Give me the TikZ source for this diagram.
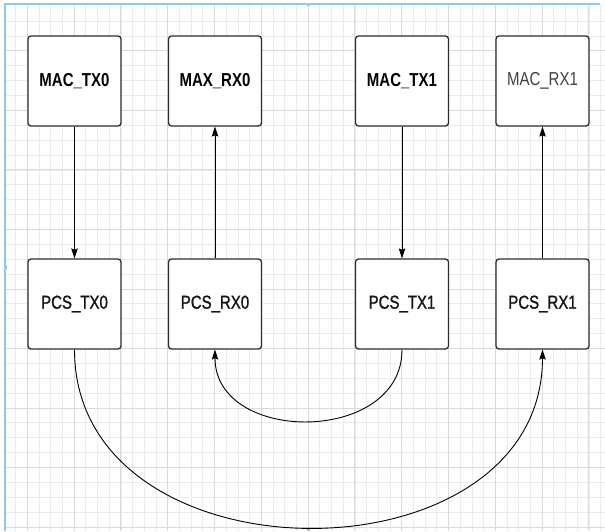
\documentclass[tikz,border=0pt]{standalone}
\usepackage{fontspec}
\usepackage{graphicx}
\setmainfont{Liberation Sans}
\newfontfamily\mediumface[FakeBold=1.3]{Liberation Sans}
\usetikzlibrary{arrows.meta}
\newcommand{\boxlabel}[1]{\scalebox{1}[1.25]{#1}}
\definecolor{gridminor}{HTML}{EBEBEB}
\definecolor{gridmajor}{HTML}{DADADA}
\definecolor{pageblue}{HTML}{8CC9F5}
\definecolor{boxline}{HTML}{2B2B2B}
\tikzset{
  block/.style={draw=boxline, line width=1.3pt, rounded corners=3pt, fill=white,
    minimum width=93pt, minimum height=90pt, inner sep=0pt,
    font=\fontsize{15pt}{18pt}\selectfont},
  plainlbl/.style={text=black!92, font=\fontsize{15pt}{18pt}\selectfont\mediumface},
  greylbl/.style={text=black!75},
  conn/.style={draw=black, line width=0.9pt,
    -{Stealth[width=6.5pt,length=10pt,inset=1.5pt]}},
  minorline/.style={draw=gridminor, line width=0.8pt},
  majorline/.style={draw=gridmajor, line width=0.9pt},
  pageedge/.style={draw=pageblue, line width=1.4pt}
}
\begin{document}
\begin{tikzpicture}[x=1pt, y=-1pt]
  \useasboundingbox (0,0) rectangle (605,531);
  \fill[white] (0,0) rectangle (605,531);

  % background grid
  \begin{scope}
    \clip (5,4) rectangle (605,531);
    \foreach \k in {0,...,50} {
      \draw[minorline] ({15.6+11.7*\k},4) -- ({15.6+11.7*\k},531);
    }
    \foreach \k in {1,...,35} {
      \draw[minorline] (5,{6.24+14.88*\k}) -- (605,{6.24+14.88*\k});
    }
    \foreach \k in {0,...,12} {
      \draw[majorline] ({27.3+46.8*\k},4) -- ({27.3+46.8*\k},531);
    }
    \foreach \k in {0,...,8} {
      \draw[majorline] (5,{50.9+59.52*\k}) -- (605,{50.9+59.52*\k});
    }
  \end{scope}

  % page edges
  \draw[pageedge] (5,531) -- (5,4) -- (600,4);
  \fill[pageblue] (306.5,2.5) rectangle (309.5,5.5);
  \fill[pageblue] (3.5,265) rectangle (6.5,269);
  \fill[pageblue] (306.5,528) rectangle (309.5,531);

  % MAC row
  \node[block] (mactx0) at (74.5,81)  {\boxlabel{\textbf{MAC\_TX0}}};
  \node[block] (maxrx0) at (215,81)   {\boxlabel{\textbf{MAX\_RX0}}};
  \node[block] (mactx1) at (402,81)   {\boxlabel{\textbf{MAC\_TX1}}};
  \node[block, greylbl] (macrx1) at (542.5,81) {\boxlabel{MAC\_RX1}};

  % PCS row
  \node[block, plainlbl] (pcstx0) at (74.5,304) {\boxlabel{PCS\_TX0}};
  \node[block, plainlbl] (pcsrx0) at (215,304)  {\boxlabel{PCS\_RX0}};
  \node[block, plainlbl] (pcstx1) at (402,304)  {\boxlabel{PCS\_TX1}};
  \node[block, plainlbl] (pcsrx1) at (542.5,304) {\boxlabel{PCS\_RX1}};

  % vertical links
  \draw[conn] (mactx0.south) -- (pcstx0.north);
  \draw[conn] (pcsrx0.north) -- (maxrx0.south);
  \draw[conn] (mactx1.south) -- (pcstx1.north);
  \draw[conn] (pcsrx1.north) -- (macrx1.south);

  % loop-back links
  \draw[conn] (pcstx1.south) .. controls +(0,95) and +(0,95) .. (pcsrx0.south);
  \draw[conn] (pcstx0.south) .. controls +(0,237) and +(0,237) .. (pcsrx1.south);
\end{tikzpicture}
\end{document}
